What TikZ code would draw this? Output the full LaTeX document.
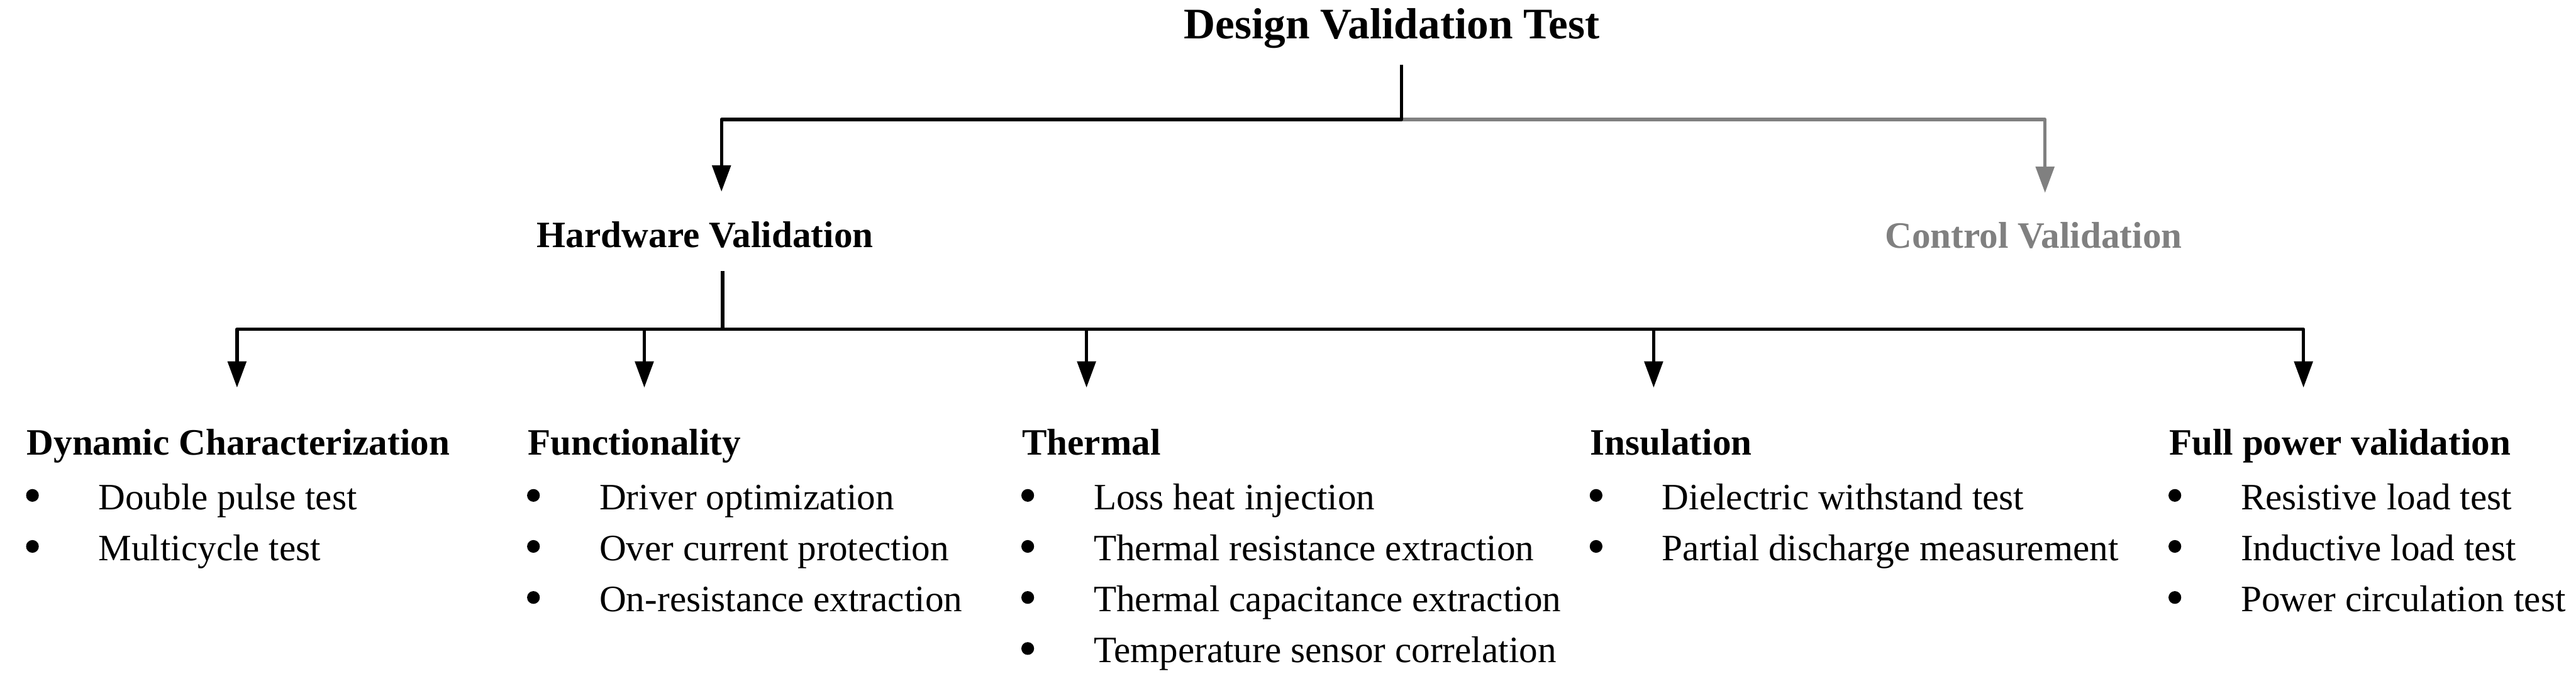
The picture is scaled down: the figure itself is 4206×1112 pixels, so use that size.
\documentclass[tikz,border=0pt]{standalone}
\usepackage{fontspec}
\setmainfont{Liberation Serif}
\usetikzlibrary{arrows.meta}
\definecolor{cgray}{HTML}{808080}
\newcommand\bltitem[4]{%
  \node[dot] (#1b) at ({#2+10},{#3-23}) {};
  \node[itm] (#1) at ({#2+117},#3) {#4};}
\begin{document}
\begin{tikzpicture}[x=0.25pt,y=-0.25pt,
  conn/.style={line width=1.375pt, line join=round},
  arr/.style={conn,-{Triangle[length=10.75pt,width=7.5pt]}},
  arrboth/.style={conn,{Triangle[length=10.75pt,width=7.5pt]}-{Triangle[length=10.75pt,width=7.5pt]}},
  ttl/.style={anchor=base west, inner sep=0pt, font=\fontsize{17.8}{20}\selectfont\bfseries},
  lvl/.style={anchor=base west, inner sep=0pt, font=\fontsize{15.2}{18}\selectfont\bfseries},
  itm/.style={anchor=base west, inner sep=0pt, font=\fontsize{15.2}{18}\selectfont},
  dot/.style={circle, fill=black, draw=none, inner sep=0pt, minimum size=5.2pt}
]
\useasboundingbox (0,0) rectangle (4206,1112);

% titles
\node[ttl] (dvt) at (1932,63) {Design Validation Test};
\node[lvl] (hw) at (876,404) {Hardware Validation};
\node[lvl, text=cgray] (cv) at (3077,405) {Control Validation};

% top connectors
\coordinate (t0) at (2288,106);
\coordinate (hb) at (2288,195);
\coordinate (hwtip) at (1178,313);
\coordinate (cvtip) at (3339,315);
\draw[arr, cgray] (hb) -| (cvtip);
\draw[arr] (t0) -- (hb) -| (hwtip);

% second level connectors
\coordinate (hwb) at (1180,443);
\coordinate (bus) at (1180,537.5);
\draw[conn] (hwb) -- (bus);
\coordinate (a1) at (387,633);
\coordinate (a2) at (1052,633);
\coordinate (a3) at (1774,633);
\coordinate (a4) at (2700,633);
\coordinate (a5) at (3761,633);
\draw[arrboth] (a1) |- (bus) -| (a5);
\draw[arr] (a2 |- bus) -- (a2);
\draw[arr] (a3 |- bus) -- (a3);
\draw[arr] (a4 |- bus) -- (a4);

% headers
\node[lvl] (dc) at (43,743) {Dynamic Characterization};
\node[lvl] (fn) at (861,743) {Functionality};
\node[lvl] (th) at (1668,743) {Thermal};
\node[lvl] (in) at (2596,743) {Insulation};
\node[lvl] (fp) at (3541,743) {Full power validation};

% items
\bltitem{dc1}{43}{832}{Double pulse test}
\bltitem{dc2}{43}{915.3}{Multicycle test}

\bltitem{fn1}{861}{832}{Driver optimization}
\bltitem{fn2}{861}{915.3}{Over current protection}
\bltitem{fn3}{861}{998.7}{On-resistance extraction}

\bltitem{th1}{1668}{832}{Loss heat injection}
\bltitem{th2}{1668}{915.3}{Thermal resistance extraction}
\bltitem{th3}{1668}{998.7}{Thermal capacitance extraction}
\bltitem{th4}{1668}{1082}{Temperature sensor correlation}

\bltitem{in1}{2596}{832}{Dielectric withstand test}
\bltitem{in2}{2596}{915.3}{Partial discharge measurement}

\bltitem{fp1}{3541}{832}{Resistive load test}
\bltitem{fp2}{3541}{915.3}{Inductive load test}
\bltitem{fp3}{3541}{998.7}{Power circulation test}
\end{tikzpicture}
\end{document}
